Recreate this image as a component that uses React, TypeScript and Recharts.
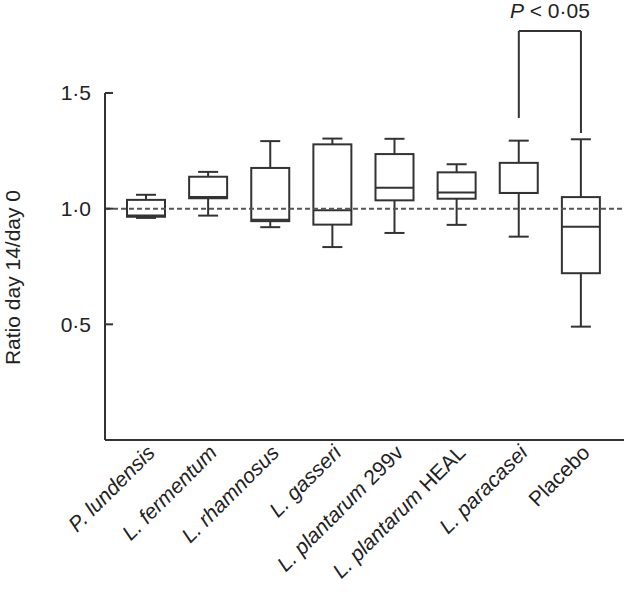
import { Bar, ComposedChart, Label, ReferenceLine, XAxis, YAxis } from "recharts";

const groups = [
  "P. lundensis",
  "L. fermentum",
  "L. rhamnosus",
  "L. gasseri",
  "L. plantarum 299v",
  "L. plantarum HEAL",
  "L. paracasei",
  "Placebo",
];
const italicPart = [
  "P. lundensis",
  "L. fermentum",
  "L. rhamnosus",
  "L. gasseri",
  "L. plantarum",
  "L. plantarum",
  "L. paracasei",
  "",
];
const mins = [0.96, 0.97, 0.92, 0.834, 0.895, 0.93, 0.879, 0.49];
const q1s = [0.965, 1.045, 0.946, 0.931, 1.036, 1.043, 1.068, 0.721];
const medians = [0.97, 1.05, 0.952, 0.993, 1.09, 1.07, 1.068, 0.922];
const q3s = [1.038, 1.138, 1.176, 1.278, 1.236, 1.157, 1.198, 1.05];
const maxs = [1.06, 1.159, 1.292, 1.303, 1.302, 1.192, 1.294, 1.3];
const yTicks = [0.5, 1, 1.5];

const data = groups.map((name, i) => ({
  name,
  range: [mins[i], maxs[i]],
  min: mins[i],
  q1: q1s[i],
  median: medians[i],
  q3: q3s[i],
  max: maxs[i],
}));

const INK = "#333";
const FONT = "'Liberation Sans', Arial, sans-serif";
const FS = 21;

function BoxShape(props: any) {
  const { x, y, width, height, payload } = props;
  const { min, q1, median, q3, max } = payload;
  const py = (v: number) => y + ((max - v) / (max - min)) * height;
  const cx = x + width / 2;
  const cap = 10;
  return (
    <g stroke={INK} strokeWidth={2} fill="none">
      <line x1={cx} x2={cx} y1={py(max)} y2={py(q3)} />
      <line x1={cx} x2={cx} y1={py(q1)} y2={py(min)} />
      <line x1={cx - cap} x2={cx + cap} y1={py(max)} y2={py(max)} />
      <line x1={cx - cap} x2={cx + cap} y1={py(min)} y2={py(min)} />
      <rect x={x} y={py(q3)} width={width} height={py(q1) - py(q3)} />
      <line x1={x} x2={x + width} y1={py(median)} y2={py(median)} />
    </g>
  );
}

function XTick(props: any) {
  const { x, y, payload } = props;
  const i = groups.indexOf(payload.value);
  const it = italicPart[i];
  const rest = payload.value.slice(it.length);
  return (
    <g transform={`translate(${x + 10},${y + 14}) rotate(-45)`}>
      <text textAnchor="end" fontSize={FS} fontFamily={FONT} fill="#222">
        {it && <tspan fontStyle="italic">{it}</tspan>}
        {rest && <tspan>{rest}</tspan>}
      </text>
    </g>
  );
}

function YTick(props: any) {
  const { x, y, payload } = props;
  return (
    <g>
      <line x1={x + 14} x2={x + 22} y1={y} y2={y} stroke={INK} strokeWidth={2} />
      <text x={x} y={y} dy="0.355em" textAnchor="end" fontSize={FS} fontFamily={FONT} fill="#222">
        {payload.value.toFixed(1).replace(".", "·")}
      </text>
    </g>
  );
}

export default function App() {
  return (
    <div style={{ position: "absolute", left: 0, top: 0, background: "#fff" }}>
      <ComposedChart width={624} height={592} data={data} margin={{ top: 93, right: 0, bottom: 0, left: 0 }}>
        <XAxis
          dataKey="name"
          interval={0}
          height={152}
          padding={{ left: 10, right: 12 }}
          axisLine={{ stroke: INK, strokeWidth: 2 }}
          tickLine={false}
          tickSize={0}
          tickMargin={0}
          tick={<XTick />}
        />
        <YAxis
          width={105}
          domain={[0, 1.5]}
          ticks={yTicks}
          axisLine={{ stroke: INK, strokeWidth: 2 }}
          tickLine={false}
          tickSize={0}
          tickMargin={14}
          tick={<YTick />}
        >
          <Label
            content={({ viewBox }: any) => {
              const cx = viewBox.x + 12;
              const cy = viewBox.y + viewBox.height / 2 + 11;
              return (
                <text
                  x={cx}
                  y={cy}
                  transform={`rotate(-90,${cx},${cy})`}
                  textAnchor="middle"
                  dominantBaseline="central"
                  fontSize={FS}
                  fontFamily={FONT}
                  fill="#222"
                >
                  Ratio day 14/day 0
                </text>
              );
            }}
          />
        </YAxis>
        <Bar dataKey="range" barSize={38} shape={<BoxShape />} isAnimationActive={false} />
        <ReferenceLine y={1} stroke="#555" strokeWidth={2} strokeDasharray="5 3" />
        <ReferenceLine
          ifOverflow="visible"
          stroke={INK}
          strokeWidth={2}
          segment={[
            { x: "L. paracasei", y: 1.768 },
            { x: "Placebo", y: 1.768 },
          ]}
          label={(p: any) => {
            const vb = p.viewBox;
            return (
              <text
                x={vb.x + vb.width / 2}
                y={vb.y - 13}
                textAnchor="middle"
                fontSize={FS}
                fontFamily={FONT}
                fill="#222"
              >
                <tspan fontStyle="italic">P</tspan>
                <tspan> &lt; 0·05</tspan>
              </text>
            );
          }}
        />
        <ReferenceLine
          ifOverflow="visible"
          stroke={INK}
          strokeWidth={2}
          segment={[
            { x: "L. paracasei", y: 1.768 },
            { x: "L. paracasei", y: 1.392 },
          ]}
        />
        <ReferenceLine
          ifOverflow="visible"
          stroke={INK}
          strokeWidth={2}
          segment={[
            { x: "Placebo", y: 1.768 },
            { x: "Placebo", y: 1.327 },
          ]}
        />
      </ComposedChart>
    </div>
  );
}
